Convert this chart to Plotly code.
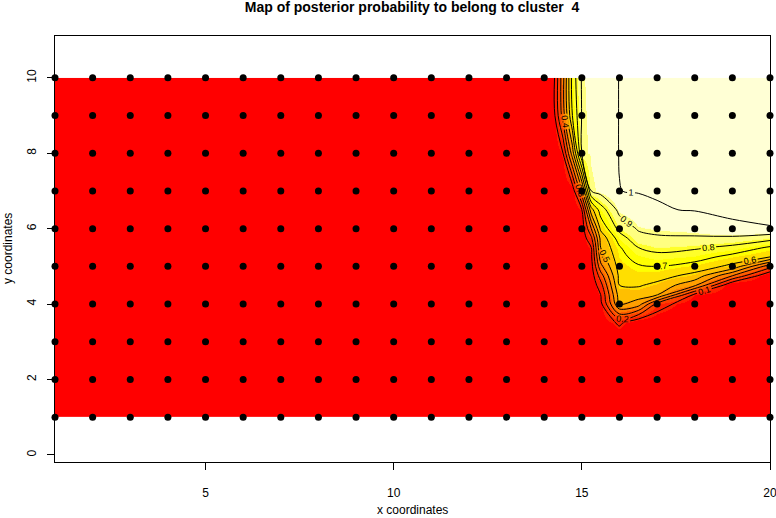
import numpy as np
import plotly.graph_objects as go

# sampled individuals (spatial coordinates)
coord_x = [1, 2, 3, 4, 5, 6, 7, 8, 9, 10, 11, 12, 13, 14, 15, 16, 17, 18, 19, 20]
coord_y = [1, 2, 3, 4, 5, 6, 7, 8, 9, 10]

# posterior probability of cluster 4 on an uneven grid
grid_x = [1, 14, 14.25, 14.5, 14.75, 15, 15.25, 15.5, 16, 16.5, 17, 18, 19, 20]
grid_y = [1, 3, 3.5, 4, 4.25, 4.5, 4.75, 5, 5.25, 5.5, 5.75, 6, 6.5, 7, 8, 9, 10]
post_prob = [
    [0, 0, 0, 0, 0, 0, 0, 0, 0, 0, 0, 0, 0, 0],
    [0, 0, 0, 0, 0, 0, 0, 0, 0, 0, 0, 0, 0, 0],
    [0, 0, 0, 0, 0, 0, 0, 0.02, 0.12, 0.01, 0, 0, 0, 0],
    [0, 0, 0, 0, 0, 0, 0, 0.07, 0.5, 0.45, 0.17, 0, 0, 0],
    [0, 0, 0, 0, 0, 0, 0, 0.1, 0.55, 0.55, 0.51, 0.08, 0, 0],
    [0, 0, 0, 0, 0, 0, 0.02, 0.16, 0.6, 0.61, 0.575, 0.42, 0, 0],
    [0, 0, 0, 0, 0, 0, 0.04, 0.25, 0.625, 0.65, 0.64, 0.567, 0.3, 0],
    [0, 0, 0, 0, 0, 0, 0.06, 0.37, 0.645, 0.69, 0.7, 0.66, 0.575, 0.24],
    [0, 0, 0, 0, 0, 0, 0.08, 0.45, 0.667, 0.74, 0.77, 0.743, 0.667, 0.6],
    [0, 0, 0, 0, 0, 0.02, 0.1, 0.5, 0.69, 0.8, 0.833, 0.815, 0.775, 0.686],
    [0, 0, 0, 0, 0, 0.03, 0.18, 0.53, 0.75, 0.87, 0.89, 0.89, 0.88, 0.84],
    [0, 0, 0, 0, 0, 0.04, 0.3, 0.62, 0.833, 0.91, 0.92, 0.933, 0.99, 0.994],
    [0, 0, 0, 0, 0, 0.1, 0.56, 0.75, 0.93, 0.96, 0.99, 0.999, 1, 1],
    [0, 0, 0, 0, 0.03, 0.37, 0.9, 0.937, 0.994, 1, 1, 1, 1, 1],
    [0, 0, 0.02, 0.1, 0.45, 0.9, 0.926, 0.952, 0.997, 1, 1, 1, 1, 1],
    [0, 0, 0.06, 0.35, 0.7, 0.905, 0.93, 0.955, 0.997, 1, 1, 1, 1, 1],
    [0, 0, 0.07, 0.37, 0.74, 0.91, 0.933, 0.955, 0.997, 1, 1, 1, 1, 1],
]

# R heat.colors(12), used as stepped bands
heat = ["#FF0000", "#FF2000", "#FF4000", "#FF6000", "#FF8000", "#FF9F00",
        "#FFBF00", "#FFDF00", "#FFFF00", "#FFFF2A", "#FFFF80", "#FFFFD5"]
n = len(heat)
heat_scale = []
for i, c in enumerate(heat):
    heat_scale.append([i / n, c])
    heat_scale.append([(i + 1) / n, c])

pts_x, pts_y = np.meshgrid(coord_x, coord_y)

label_font = dict(size=9, color="black", family="Liberation Sans")

fig = go.Figure()

fig.add_trace(
    go.Contour(
        x=grid_x,
        y=grid_y,
        z=post_prob,
        zmin=0,
        zmax=1,
        colorscale=heat_scale,
        showscale=False,
        autocontour=False,
        contours=dict(
            coloring="heatmap",
            start=0.1,
            end=0.95,
            size=0.1,
            showlabels=True,
            labelformat=".1f",
            labelfont=label_font,
        ),
        line=dict(color="black", width=1, smoothing=1),
        hoverinfo="skip",
    )
)

# the "1" line
fig.add_trace(
    go.Contour(
        x=grid_x,
        y=grid_y,
        z=post_prob,
        showscale=False,
        autocontour=False,
        contours=dict(
            coloring="none",
            start=0.995,
            end=0.995,
            size=0.1,
            showlabels=True,
            labelformat=".0f",
            labelfont=label_font,
        ),
        line=dict(color="black", width=1, smoothing=1),
        hoverinfo="skip",
    )
)

fig.add_trace(
    go.Scatter(
        x=pts_x.ravel(),
        y=pts_y.ravel(),
        mode="markers",
        marker=dict(color="black", size=7),
        cliponaxis=False,
        showlegend=False,
    )
)

axis_common = dict(
    showgrid=False,
    zeroline=False,
    showline=True,
    mirror=True,
    linecolor="black",
    linewidth=1,
    ticks="outside",
    ticklen=7,
    tickcolor="black",
    tickfont=dict(size=12, color="black"),
    automargin=False,
    ticklabeloverflow="allow",
)

fig.update_layout(
    width=776,
    height=518,
    margin=dict(l=55, r=6, t=36, b=56),
    plot_bgcolor="white",
    paper_bgcolor="white",
    font=dict(family="Liberation Sans", color="black"),
    showlegend=False,
    title=dict(
        text="<b>Map of posterior probability to belong to cluster  4</b>",
        x=412 / 776,
        xanchor="center",
        y=1 - 7 / 518,
        yanchor="middle",
        font=dict(size=14, color="black"),
        automargin=False,
    ),
    xaxis=dict(
        axis_common,
        range=[1, 20],
        tickvals=[5, 10, 15, 20],
        ticklabelstandoff=13,
    ),
    yaxis=dict(
        axis_common,
        range=[-0.19, 11.11],
        tickvals=[0, 2, 4, 6, 8, 10],
        tickangle=-90,
        ticklabelstandoff=6,
    ),
    annotations=[
        dict(
            text="x coordinates",
            xref="paper", yref="paper",
            x=0.5, y=-48 / 426,
            xanchor="center", yanchor="middle",
            showarrow=False,
            font=dict(size=12, color="black"),
        ),
        dict(
            text="y coordinates",
            xref="paper", yref="paper",
            x=-47 / 715, y=0.5,
            xanchor="center", yanchor="middle",
            textangle=-90,
            showarrow=False,
            font=dict(size=12, color="black"),
        ),
    ],
)

# the page body has a default margin; drop it so the figure sits at the corner
fig.write_html(
    "out.html",
    config={"displayModeBar": False},
    post_script="document.body.style.margin='0';",
)
